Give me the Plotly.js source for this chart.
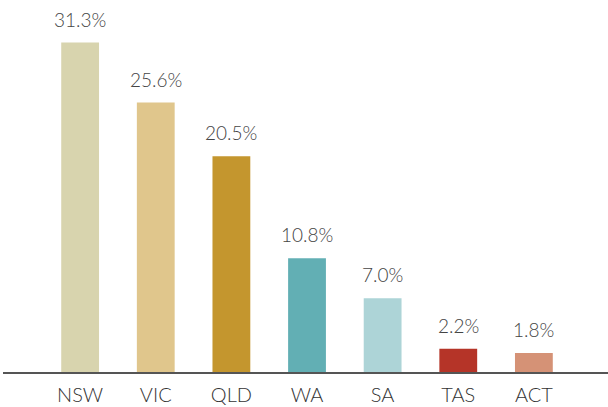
<!DOCTYPE html>
<html>
<head>
<meta charset="utf-8">
<script src="https://cdn.plot.ly/plotly-3.0.1.min.js"></script>
<style>html,body{margin:0;padding:0;background:#fff;}#chart{width:608px;height:407px;}</style>
</head>
<body>
<div id="chart"></div>
<script>
const categories = ["NSW", "VIC", "QLD", "WA", "SA", "TAS", "ACT"];
const shares = [31.3, 25.6, 20.5, 10.8, 7.0, 2.2, 1.8];
const labels = ["31.3%", "25.6%", "20.5%", "10.8%", "7.0%", "2.2%", "1.8%"];
const colors = ["#d8d4ae", "#e0c68c", "#c4962e", "#62afb4", "#add4d7", "#b53428", "#d59276"];

const fontFam = "Lato, 'Open Sans', sans-serif";

const trace = {
  type: "bar",
  x: categories,
  y: shares,
  marker: {color: colors},
  hoverinfo: "none"
};

const annotations = categories.map((c, i) => ({
  x: c, y: shares[i], xref: "x", yref: "y",
  text: labels[i], showarrow: false,
  yanchor: "bottom", yshift: 10,
  font: {family: fontFam, size: 19, color: "#444444", weight: 300}
}));

const layout = {
  width: 608, height: 407,
  margin: {l: 3, r: 0, t: 10, b: 35, pad: 0},
  paper_bgcolor: "#ffffff", plot_bgcolor: "#ffffff",
  bargap: 0.5,
  showlegend: false,
  xaxis: {
    range: [-1.02, 6.98],
    showline: true, linecolor: "#555555", linewidth: 1.5,
    ticks: "", showgrid: false, zeroline: false,
    tickfont: {family: fontFam, size: 20, color: "#333333", weight: 300},
    ticklabelstandoff: 4
  },
  yaxis: {
    range: [0, 34.4],
    visible: false, showgrid: false, zeroline: false
  },
  annotations: annotations
};

Plotly.newPlot("chart", [trace], layout, {displayModeBar: false, staticPlot: true});
</script>
</body>
</html>
